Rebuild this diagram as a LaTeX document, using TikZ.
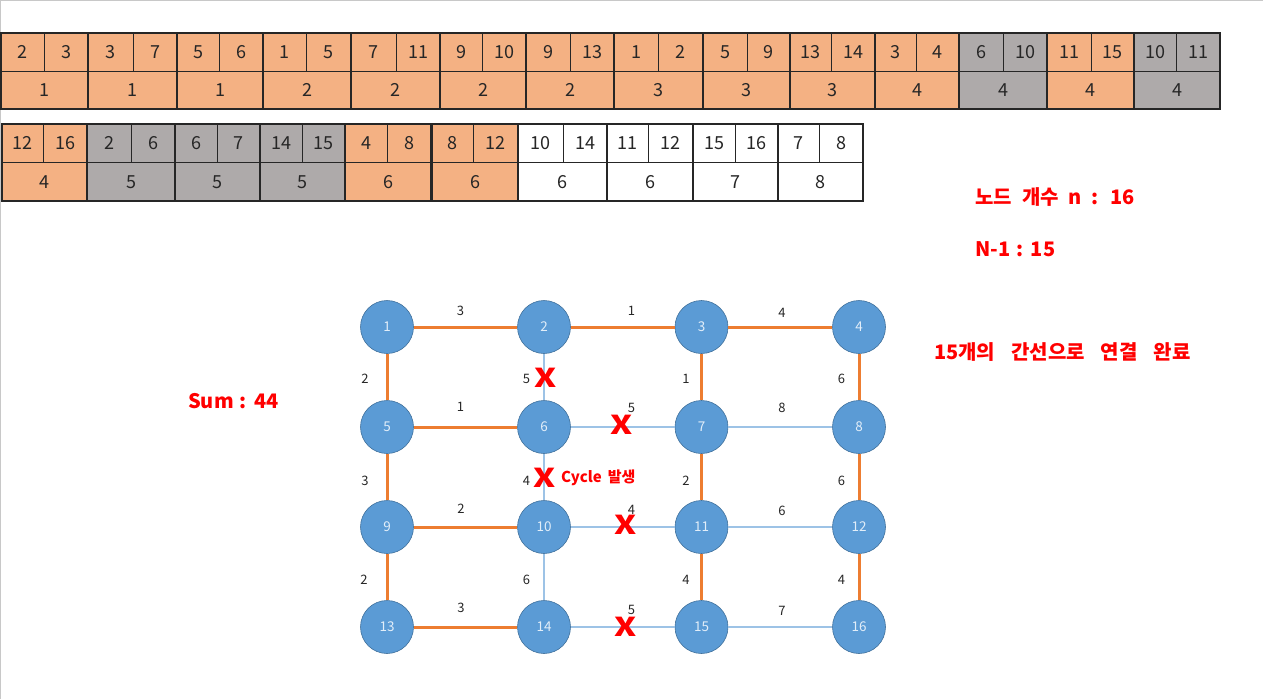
\documentclass[tikz,border=0pt]{standalone}
\usepackage{fontspec}
\setmainfont{Noto Sans CJK KR}
\definecolor{orfill}{HTML}{F4B183}
\definecolor{grfill}{HTML}{AEAAAA}
\definecolor{whfill}{HTML}{FFFFFF}
\definecolor{nodeblue}{HTML}{5B9BD5}
\definecolor{nodeborder}{HTML}{41719C}
\definecolor{nodetext}{HTML}{E2EEF9}
\definecolor{mstcol}{HTML}{ED7D31}
\definecolor{rejcol}{HTML}{9DC3E6}
\definecolor{redc}{HTML}{FF0000}
\definecolor{framec}{HTML}{C8C8C8}
\newcommand{\widespA}{\spaceskip=10pt\relax}
\newcommand{\widespB}{\spaceskip=6pt\relax}
\newcommand{\widespC}{\spaceskip=16pt\relax}
\begin{document}
\begin{tikzpicture}[x=1pt,y=-1pt,
  cell/.style={draw=black!85, line width=0.8pt},
  grp/.style={draw=black!85, line width=1.3pt},
  num/.style={font=\fontsize{18}{20}\selectfont, text=black!85, inner sep=0pt},
  vert/.style={circle, minimum size=53pt, inner sep=0pt, fill=nodeblue, draw=nodeborder, line width=0.6pt, text=nodetext, font=\fontsize{13.5}{15}\selectfont},
  mst/.style={draw=mstcol, line width=3pt},
  rej/.style={draw=rejcol, line width=1.6pt},
  wt/.style={font=\fontsize{13}{15}\selectfont, inner sep=0pt, text=black!85},
  redx/.style={font=\bfseries\fontsize{26}{28}\selectfont, text=redc, inner sep=0pt},
  redtxt/.style={font=\bfseries\fontsize{20}{22}\selectfont, text=redc, inner sep=0pt, anchor=west}
]
\useasboundingbox (0,0) rectangle (1263,699);
\draw[framec, line width=1pt] (0.5,699) -- (0.5,0.5) -- (1263,0.5);

% ---- first row of edge cards
\foreach \i/\xa/\xb/\xc/\a/\b/\w/\col in {
  1/1/44/88/2/3/1/orfill, 2/88/133/177/3/7/1/orfill, 3/177/219/263/5/6/1/orfill,
  4/263/306/351/1/5/2/orfill, 5/351/396/440/7/11/2/orfill, 6/440/482/526/9/10/2/orfill,
  7/526/570/614/9/13/2/orfill, 8/614/658/703/1/2/3/orfill, 9/703/747/790/5/9/3/orfill,
  10/790/831/875/13/14/3/orfill, 11/875/916/959/3/4/4/orfill, 12/959/1003/1047/6/10/4/grfill,
  13/1047/1091/1134/11/15/4/orfill, 14/1134/1176/1220/10/11/4/grfill}{
  \fill[\col] (\xa,33) rectangle (\xc,109);
  \draw[cell] (\xb,33) -- (\xb,71);
  \draw[cell] (\xa,71) -- (\xc,71);
  \draw[grp] (\xa,33) rectangle (\xc,109);
  \node[num] (ta\i) at ({(\xa+\xb)/2},52) {\a};
  \node[num] (tb\i) at ({(\xb+\xc)/2},52) {\b};
  \node[num] (tw\i) at ({(\xa+\xc)/2},90) {\w};
}

% ---- second row of edge cards
\foreach \i/\xa/\xb/\xc/\a/\b/\w/\col in {
  1/2/43/87/12/16/4/orfill, 2/87/131/175/2/6/5/grfill, 3/175/217/260/6/7/5/grfill,
  4/260/302/345/14/15/5/grfill, 5/345/387/431/4/8/6/orfill, 6/432/473/518/8/12/6/orfill,
  7/518/563/607/10/14/6/whfill, 8/607/648/693/11/12/6/whfill, 9/693/735/778/15/16/7/whfill,
  10/778/819/863/7/8/8/whfill}{
  \fill[\col] (\xa,124) rectangle (\xc,201);
  \draw[cell] (\xb,124) -- (\xb,162.5);
  \draw[cell] (\xa,162.5) -- (\xc,162.5);
  \draw[grp] (\xa,124) rectangle (\xc,201);
  \node[num] (sa\i) at ({(\xa+\xb)/2},143) {\a};
  \node[num] (sb\i) at ({(\xb+\xc)/2},143) {\b};
  \node[num] (sw\i) at ({(\xa+\xc)/2},182) {\w};
}

% ---- red notes
\node[redtxt, execute at begin node=\widespA] (nn) at (975,197) {노드 개수 n : 16};
\node[redtxt, execute at begin node=\widespB] (nm) at (975,249) {N-1 : 15};
\node[redtxt, execute at begin node=\widespC] (done) at (934,352) {15개의 간선으로 연결 완료};
\node[redtxt, execute at begin node=\widespB] (sum) at (188,401) {Sum : 44};

% ---- graph vertices
\foreach \n/\x/\y in {1/387/327, 2/544/327, 3/701.5/327, 4/859/327,
  5/387/427, 6/544/427, 7/701.5/427, 8/859/427,
  9/387/527, 10/544/527, 11/701.5/527, 12/859/527,
  13/387/627, 14/544/627, 15/701.5/627, 16/859/627}{
  \node[vert] (v\n) at (\x,\y) {\n};
}

% ---- edges
\foreach \p/\q in {1/2, 2/3, 3/4, 1/5, 3/7, 4/8, 5/6, 5/9, 7/11, 8/12, 9/10, 9/13, 11/15, 12/16, 13/14}{
  \draw[mst] (v\p) -- (v\q);
}
\foreach \p/\q in {2/6, 6/7, 6/10, 10/11, 7/8, 11/12, 10/14, 14/15, 15/16}{
  \draw[rej] (v\p) -- (v\q);
}

% ---- weights
\foreach \k/\x/\y/\t in {a/460.5/311/3, b/631.5/311/1, c/782/312.5/4,
  d/365/379/2, e/526.5/379/5, f/686/379/1, g/841.5/379/6,
  h/460.5/406.5/1, i/631.5/407.5/5, j/782/408/8,
  k/365/480.5/3, l/526.5/480.5/4, m/686/480.5/2, n/841.5/480.5/6,
  o/461/509/2, p/631.5/509.5/4, q/782/511/6,
  r/364/580/2, s/526.5/580/6, t/686/580/4, u/841.5/580/4,
  v/461/608/3, w/631.5/610/5, x/782/611/7}{
  \node[wt] (w\k) at (\x,\y) {\t};
}

% ---- rejected marks
\node[redx] (x1) at (545.5,378) {\scalebox{1.3}[1]{X}};
\node[redx] (x2) at (621.5,425) {\scalebox{1.3}[1]{X}};
\node[redx] (x3) at (544.3,478.3) {\scalebox{1.3}[1]{X}};
\node[redx] (x4) at (626,525) {\scalebox{1.3}[1]{X}};
\node[redx] (x5) at (626,626.5) {\scalebox{1.3}[1]{X}};
\node[font=\bfseries\fontsize{15}{17}\selectfont, execute at begin node=\widespB, text=redc, inner sep=0pt, anchor=west] (cyc) at (561,478) {Cycle 발생};
\end{tikzpicture}
\end{document}
